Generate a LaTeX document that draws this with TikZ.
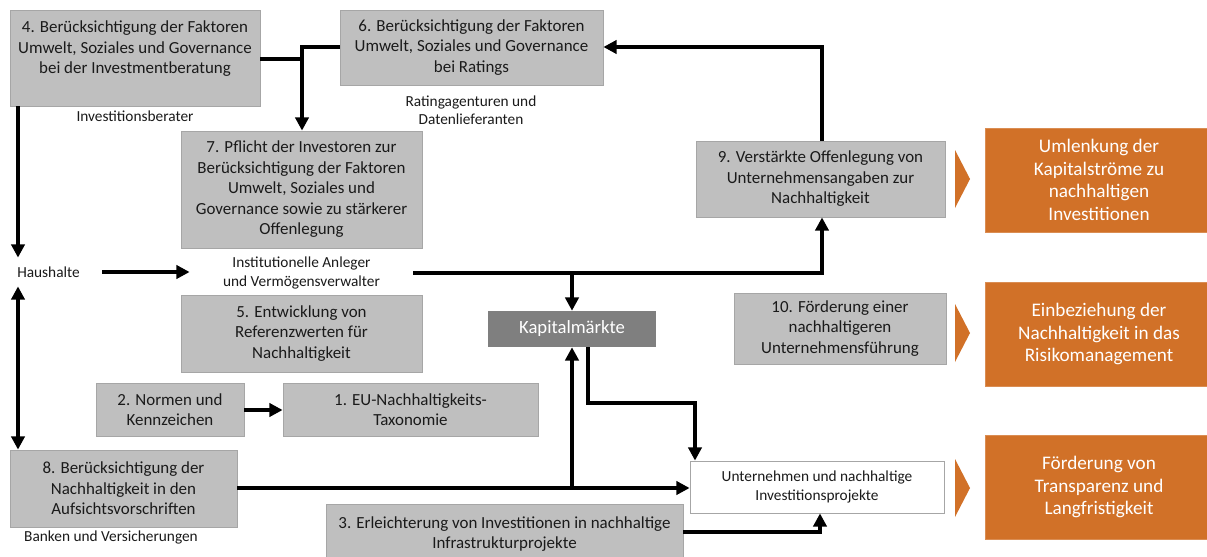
\documentclass[tikz,border=0pt]{standalone}
\usepackage{fontspec}
\setmainfont{Carlito}
\usetikzlibrary{arrows.meta,fit}
\definecolor{boxgray}{HTML}{BFBFBF}
\definecolor{boxedge}{HTML}{A6A6A6}
\definecolor{darkbox}{HTML}{7F7F7F}
\definecolor{orng}{HTML}{D17128}
\definecolor{txtc}{HTML}{1A1A1A}
\begin{document}
\begin{tikzpicture}[x=0.75pt,y=-0.75pt,
  graybox/.style={draw=boxedge, line width=0.6pt, fill=boxgray, inner sep=0pt},
  whitebox/.style={draw=boxedge, line width=0.6pt, fill=white, inner sep=0pt},
  kapbox/.style={fill=darkbox, inner sep=0pt},
  orbox/.style={draw=orng!80!white, line width=0.6pt, fill=orng, inner sep=0pt},
  boxtext/.style={align=center, inner sep=0pt, text=txtc, font=\fontsize{12.7}{15.4}\selectfont},
  kaptext/.style={align=center, inner sep=0pt, text=white, font=\fontsize{14}{16}\selectfont},
  ortext/.style={align=center, inner sep=0pt, text=white, font=\fontsize{14.4}{17}\selectfont},
  lbl/.style={align=center, inner sep=0pt, text=txtc, font=\fontsize{11.5}{13.8}\selectfont},
  conn/.style={line width=3pt, black},
  arr/.style={conn, -{Triangle[length=10pt,width=10pt]}},
  darr/.style={conn, {Triangle[length=10pt,width=10pt]}-{Triangle[length=10pt,width=10pt]}}
]
\clip (0,0) rectangle (1207,557);
\fill[white] (0,0) rectangle (1207,557);

% gray boxes
\node[graybox, fit={(10,10) (260,106)}] (b4) {};
\node[boxtext] (b4t) at (135,49) {4. Berücksichtigung der Faktoren\\Umwelt, Soziales und Governance\\bei der Investmentberatung};
\node[graybox, fit={(340,10) (603,85)}] (b6) {};
\node[boxtext] (b6t) at (b6) {6. Berücksichtigung der Faktoren\\Umwelt, Soziales und Governance\\bei Ratings};
\node[graybox, fit={(181,131) (422,248)}] (b7) {};
\node[boxtext] (b7t) at (b7) {7. Pflicht der Investoren zur\\Berücksichtigung der Faktoren\\Umwelt, Soziales und\\Governance sowie zu stärkerer\\Offenlegung};
\node[graybox, fit={(181,295) (422,372)}] (b5) {};
\node[boxtext] (b5t) at (b5) {5. Entwicklung von\\Referenzwerten für\\Nachhaltigkeit};
\node[graybox, fit={(696,141) (945,217)}] (b9) {};
\node[boxtext] (b9t) at (b9) {9. Verstärkte Offenlegung von\\Unternehmensangaben zur\\Nachhaltigkeit};
\node[graybox, fit={(734,293) (946,364)}] (b10) {};
\node[boxtext] (b10t) at (b10) {10. Förderung einer\\nachhaltigeren\\Unternehmensführung};
\node[graybox, fit={(96,383) (244,436)}] (b2) {};
\node[boxtext] (b2t) at (b2) {2. Normen und\\Kennzeichen};
\node[graybox, fit={(283,383) (538,436)}] (b1) {};
\node[boxtext] (b1t) at (b1) {1. EU-Nachhaltigkeits-\\Taxonomie};
\node[graybox, fit={(10,450) (237,527)}] (b8) {};
\node[boxtext] (b8t) at (b8) {8. Berücksichtigung der\\Nachhaltigkeit in den\\Aufsichtsvorschriften};
\node[graybox, fit={(326,504) (683,564)}] (b3) {};
\node[boxtext] (b3t) at (b3) {3. Erleichterung von Investitionen in nachhaltige\\Infrastrukturprojekte};

\node[kapbox, fit={(488,311) (656,347)}] (kap) {};
\node[kaptext] (kapt) at (kap) {Kapitalmärkte};
\node[whitebox, fit={(690,461) (944,513)}] (un) {};
\node[lbl] (unt) at (un) {Unternehmen und nachhaltige\\Investitionsprojekte};

% orange outcome boxes
\node[orbox, fit={(985,128) (1213,232)}] (o1) {};
\node[ortext] (o1t) at (o1) {Umlenkung der\\Kapitalströme zu\\nachhaltigen\\Investitionen};
\node[orbox, fit={(985,282) (1213,386)}] (o2) {};
\node[ortext] (o2t) at (o2) {Einbeziehung der\\Nachhaltigkeit in das\\Risikomanagement};
\node[orbox, fit={(985,435) (1213,539)}] (o3) {};
\node[ortext] (o3t) at (o3) {Förderung von\\Transparenz und\\Langfristigkeit};
\fill[orng] (955,150) -- (970,179) -- (955,208) -- cycle;
\fill[orng] (955,304) -- (970,333) -- (955,362) -- cycle;
\fill[orng] (955,459) -- (970,488) -- (955,517) -- cycle;

% labels
\node[lbl] (l4) at (135,116) {Investitionsberater};
\node[lbl] (l6) at (471,110) {Ratingagenturen und\\Datenlieferanten};
\node[lbl] (l8) at (111,537) {Banken und Versicherungen};
\node[graybox, draw=none, fill=none, fit={(-5,258) (102,286)}] (hh) {};
\node[lbl] (hht) at (hh) {Haushalte};
\node[graybox, draw=none, fill=none, fit={(190,258) (413,288)}] (inst) {};
\node[lbl] (instt) at (inst) {Institutionelle Anleger\\und Vermögensverwalter};

% connectors
\coordinate (cx) at (18,0);
\coordinate (j1) at (302,47);
\coordinate (j2) at (302,59);
\coordinate (j3) at (822,47);
\coordinate (j4) at (822,273);
\coordinate (j5) at (572,273);
\coordinate (j6) at (588,403);
\coordinate (j7) at (695,403);
\coordinate (j8) at (572,488);
\coordinate (j9) at (820,532);
\coordinate (j10) at (260,410);

\draw[arr] (cx |- b4.south) -- (cx |- hh.north);
\draw[darr] (cx |- hh.south) -- (cx |- b8.north);
\draw[arr] (hh.east) -- (inst.west |- hh.east);
\draw[arr] (b6.west |- j1) -- (j1) -- (j1 |- b7.north);
\draw[conn] (b4.east |- j2) -- (j2);
\draw[arr] (j3 |- b9.north) -- (j3) -- (b6.east |- j3);
\draw[arr] (inst.east |- j4) -- (j4) -- (j4 |- b9.south);
\draw[arr] (j5) -- (j5 |- kap.north);
\draw[arr] (j6 |- kap.south) -- (j6) -- (j7) -- (j7 |- un.north);
\draw[arr] (b8.east |- j8) -- (un.west |- j8);
\draw[arr] (j8) -- (j8 |- kap.south);
\draw[arr] (b3.east |- j9) -- (j9) -- (j9 |- un.south);
\draw[arr] (b2.east |- j10) -- (b1.west |- j10);
\end{tikzpicture}
\end{document}
